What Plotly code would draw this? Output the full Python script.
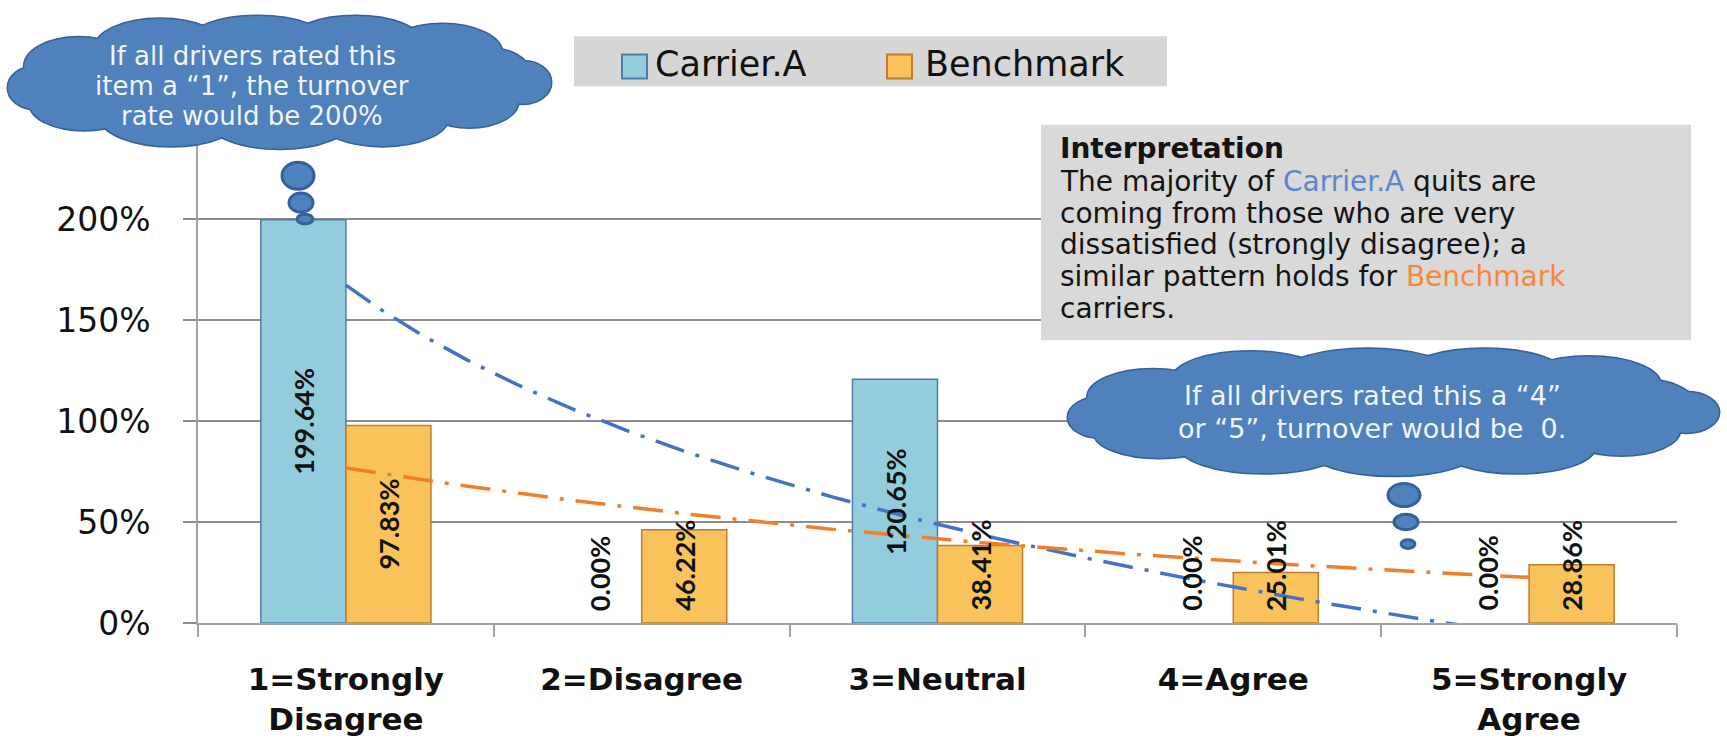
import numpy as np
import plotly.graph_objects as go

# ---- data ---------------------------------------------------------------
categories = ["1=Strongly<br>Disagree", "2=Disagree", "3=Neutral", "4=Agree", "5=Strongly<br>Agree"]
carrier_a = [1.9964, 0.0, 1.2065, 0.0, 0.0]
benchmark = [0.9783, 0.4622, 0.3841, 0.2501, 0.2886]
series_names = ["Carrier.A", "Benchmark"]
y_tick_values = [0, 0.5, 1.0, 1.5, 2.0, 2.5]
y_tick_labels = ["0%", "50%", "100%", "150%", "200%", ""]  # top gridline sits under the cloud

cloud_left_lines = ["If all drivers rated this", "item a \u201c1\u201d, the turnover", "rate would be 200%"]
cloud_right_lines = ["If all drivers rated this a \u201c4\u201d", "or \u201c5\u201d, turnover would be\u00a0 0."]
note_title = "Interpretation"
note_lines = [
    "The majority of <span style='color:#5B87C9'>Carrier.A</span> quits are",
    "coming from those who are very",
    "dissatisfied (strongly disagree); a",
    "similar pattern holds for <span style='color:#F7873A'>Benchmark</span>",
    "carriers.",
]

# ---- page geometry (pixels) ---------------------------------------------
W, H = 1727, 749
ML, MR, MT, MB = 198, 50, 118, 106
PW, PH = W - ML - MR, H - MT - MB


def px(x):
    return (x - ML) / PW


def py(y):
    return (H - MB - y) / PH


BLUE_FILL, BLUE_EDGE = "#93CDDD", "#4A7EA8"
ORANGE_FILL, ORANGE_EDGE = "#F9C35B", "#C27A2C"
TREND_BLUE, TREND_ORANGE = "#4472C4", "#F07F2A"
CLOUD_FILL, CLOUD_EDGE = "#4F81BD", "#36609A"
GRID = "#8C8C8C"
AXIS = "#A3A3A3"

xs = np.arange(len(categories))
BAR_GAP = 0.425
BAR_W = (1 - BAR_GAP) / 2


def edge_widths(values):
    # no outline on empty bars, so a zero value leaves no sliver on the axis
    return [1.5 if v > 0 else 0 for v in values]


fig = go.Figure()
fig.add_bar(x=xs, y=carrier_a, name=series_names[0], hoverinfo="skip",
            marker=dict(color=BLUE_FILL, line=dict(color=BLUE_EDGE, width=edge_widths(carrier_a))))
fig.add_bar(x=xs, y=benchmark, name=series_names[1], hoverinfo="skip",
            marker=dict(color=ORANGE_FILL, line=dict(color=ORANGE_EDGE, width=edge_widths(benchmark))))

# ---- trend lines: logarithmic for Carrier.A, exponential for Benchmark ----
t = np.linspace(0, len(xs) - 1, 161)
log_b, log_a = np.polyfit(np.log(xs + 1), carrier_a, 1)
carrier_trend = log_a + log_b * np.log(t + 1)
exp_k, exp_c = np.polyfit(xs + 1, np.log(benchmark), 1)
bench_trend = np.exp(exp_c + exp_k * (t + 1))

DASH = "30px,12px,4px,12px"
fig.add_scatter(x=t, y=carrier_trend, mode="lines", hoverinfo="skip",
                line=dict(color=TREND_BLUE, width=3.5, dash=DASH))
fig.add_scatter(x=t, y=bench_trend, mode="lines", hoverinfo="skip",
                line=dict(color=TREND_ORANGE, width=3.5, dash=DASH))

# ---- value labels on the bars -------------------------------------------
for values, offset in ((carrier_a, -BAR_W / 2), (benchmark, BAR_W / 2)):
    for i, v in enumerate(values):
        centred = v >= 0.6  # tall bars: label in the middle; short ones stand on the base
        fig.add_annotation(
            x=i + offset, y=v / 2 if centred else 0, xref="x", yref="y",
            text=f"<b>{v:.2%}</b>", textangle=-90, showarrow=False,
            yanchor="middle" if centred else "bottom", yshift=0 if centred else 10,
            font=dict(family="Lato", size=27, color="#111111"),
        )

shapes = []

# ---- interpretation panel -----------------------------------------------
shapes.append(dict(type="rect", xref="paper", yref="paper", layer="above",
                   x0=px(1041), x1=px(1691), y0=py(349), y1=py(125),
                   fillcolor="#D9D9D9", line=dict(width=0)))
note_y = [150, 184, 217, 250, 283, 316]
for txt, yy in zip([f"<b>{note_title}</b>"] + note_lines, note_y):
    fig.add_annotation(x=px(1058), y=py(yy), xref="paper", yref="paper",
                       xanchor="left", yanchor="middle", showarrow=False, text=txt,
                       font=dict(family="DejaVu Sans", size=28, color="#141414"))

# ---- legend panel -------------------------------------------------------
shapes.append(dict(type="rect", xref="paper", yref="paper", layer="above",
                   x0=px(574), x1=px(1167), y0=py(85), y1=py(33),
                   fillcolor="#D6D6D6", line=dict(width=0)))
for name, sx, tx, fill, edge in ((series_names[0], 622, 653, BLUE_FILL, BLUE_EDGE),
                                 (series_names[1], 887, 923, ORANGE_FILL, ORANGE_EDGE)):
    shapes.append(dict(type="rect", xref="paper", yref="paper", layer="above",
                       x0=px(sx), x1=px(sx + 25), y0=py(77), y1=py(52),
                       fillcolor=fill, line=dict(color=edge, width=2)))
    fig.add_annotation(x=px(tx), y=py(62), xref="paper", yref="paper",
                       xanchor="left", yanchor="middle", showarrow=False, text=name,
                       font=dict(family="DejaVu Sans", size=35, color="#111111"))

# ---- thought clouds -----------------------------------------------------
LOBES = [
    (0.50, 0.52, 0.41, 0.36),
    (0.05, 0.54, 0.05, 0.16),
    (0.95, 0.50, 0.05, 0.16),
    (0.13, 0.38, 0.10, 0.22),
    (0.28, 0.24, 0.12, 0.22),
    (0.46, 0.20, 0.13, 0.20),
    (0.64, 0.19, 0.12, 0.19),
    (0.80, 0.28, 0.11, 0.22),
    (0.88, 0.42, 0.08, 0.18),
    (0.14, 0.66, 0.10, 0.20),
    (0.30, 0.76, 0.13, 0.22),
    (0.50, 0.79, 0.13, 0.21),
    (0.69, 0.77, 0.12, 0.21),
    (0.85, 0.64, 0.09, 0.20),
]


def ellipse(cx, cy, rx, ry, outline):
    return dict(type="circle", xref="paper", yref="paper", layer="above",
                x0=px(cx - rx), x1=px(cx + rx), y0=py(cy + ry), y1=py(cy - ry),
                fillcolor=CLOUD_FILL,
                line=dict(color=CLOUD_EDGE, width=3 if outline else 0))


def cloud(left, top, right, bottom, bubbles):
    w, h = right - left, bottom - top
    out = []
    for outline in (True, False):
        for cx, cy, rx, ry in LOBES:
            out.append(ellipse(left + cx * w, top + cy * h, rx * w, ry * h, outline))
    for cx, cy, rx, ry in bubbles:
        out.append(ellipse(cx, cy, rx, ry, True))
    return out


shapes += cloud(8, 12, 551, 150, [(298, 178, 16, 14), (301, 206, 12, 10), (305, 223, 8, 5)])
shapes += cloud(1068, 358, 1719, 490, [(1404, 510, 16, 12), (1406, 538, 12, 8), (1408, 561, 7, 4.5)])

for txt, yy in zip(cloud_left_lines, [54, 85, 116]):
    fig.add_annotation(x=px(252), y=py(yy), xref="paper", yref="paper", showarrow=False,
                       xanchor="center", yanchor="middle", text=txt,
                       font=dict(family="DejaVu Sans", size=26, color="#F2F5FA"))
for txt, yy in zip(cloud_right_lines, [407, 441]):
    fig.add_annotation(x=px(1372), y=py(yy), xref="paper", yref="paper", showarrow=False,
                       xanchor="center", yanchor="middle", text=txt,
                       font=dict(family="DejaVu Sans", size=27, color="#F2F5FA"))

fig.update_layout(
    width=W, height=H, autosize=False,
    margin=dict(l=ML, r=MR, t=MT, b=MB, pad=0),
    paper_bgcolor="white", plot_bgcolor="white",
    barmode="group", bargap=BAR_GAP, bargroupgap=0,
    showlegend=False,
    shapes=shapes,
    xaxis=dict(
        range=[-0.5, len(categories) - 0.5], tickmode="array", tickvals=xs, ticktext=categories,
        ticks="", showgrid=False, zeroline=False,
        showline=True, linecolor=AXIS, linewidth=1.5,
        tickfont=dict(family="DejaVu Sans", size=31, color="#111111", weight="bold"),
        ticklabelstandoff=28,
        minor=dict(tickmode="array", tickvals=[i - 0.5 for i in range(len(categories) + 1)],
                   ticks="outside", ticklen=12, tickwidth=1.5, tickcolor=AXIS, showgrid=False),
    ),
    yaxis=dict(
        range=[0, 2.5], tickmode="array", tickvals=y_tick_values, ticktext=y_tick_labels,
        ticks="outside", ticklen=13, tickwidth=1.5, tickcolor=GRID,
        showgrid=True, gridcolor=GRID, gridwidth=1.5, zeroline=False,
        showline=True, linecolor=AXIS, linewidth=1.5,
        tickfont=dict(family="DejaVu Sans", size=33, color="#111111"),
        ticklabelstandoff=26,
    ),
)

fig.write_html("out.html")
